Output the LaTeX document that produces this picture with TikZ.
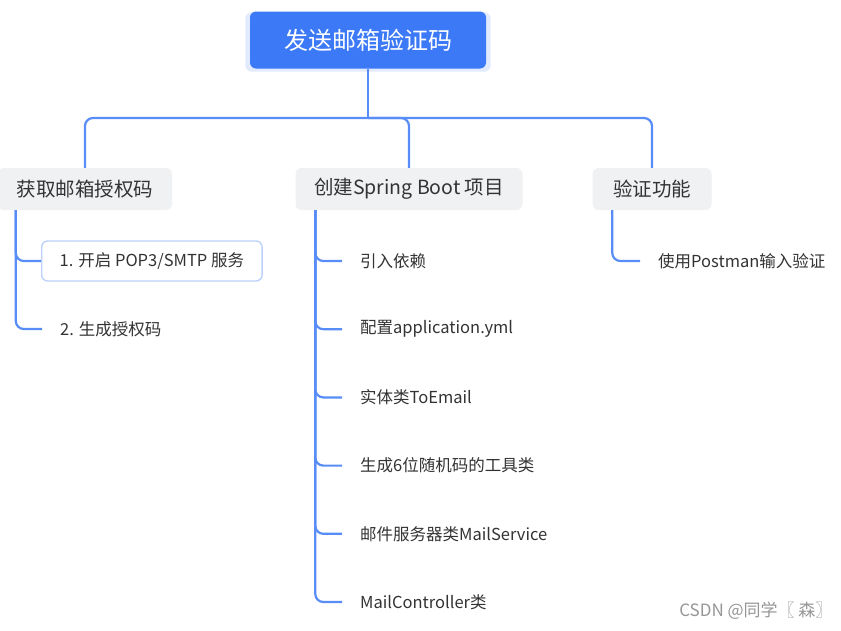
\documentclass[tikz,border=0pt]{standalone}
\usepackage{fontspec}
\setmainfont{Noto Sans CJK SC}
\usetikzlibrary{shadows}
\definecolor{rootblue}{RGB}{59,121,246}
\definecolor{linkblue}{RGB}{88,140,247}
\definecolor{topicgray}{RGB}{240,241,243}
\definecolor{itemline}{RGB}{188,210,250}
\definecolor{txtgray}{RGB}{51,51,51}
\definecolor{markgray}{RGB}{150,150,150}
\begin{document}
\begin{tikzpicture}[x=1pt, y=-1pt,
  every node/.style={text=txtgray},
  rootbox/.style={fill=rootblue, text=white, rounded corners=6pt, minimum width=236pt, minimum height=57pt,
    font=\fontsize{24}{28}\selectfont,
    drop shadow={shadow xshift=0pt, shadow yshift=-2pt, shadow scale=1.04, fill=rootblue, opacity=0.15}},
  topic/.style={fill=topicgray, rounded corners=6pt, minimum height=42pt, inner xsep=16pt, font=\fontsize{19.5}{23}\selectfont},
  item/.style={anchor=west, minimum height=40pt, inner xsep=18pt, font=\fontsize{16.5}{20}\selectfont},
  link/.style={draw=linkblue, line width=2.2pt, rounded corners=8pt}]
  \path[use as bounding box, fill=white] (0,0) rectangle (841,630);
  % root and first level
  \node[rootbox] (root) at (368,40) {发送邮箱验证码};
  \node[topic, minimum width=174pt] (auth) at (85,189) {获取邮箱授权码};
  \node[topic, minimum width=227pt] (spring) at (409,189) {创建Spring Boot 项目};
  \node[topic, minimum width=119pt] (verify) at (652,189) {验证功能};
  \coordinate (bus) at (368,118);
  \draw[link] (root.south) -- (bus);
  \draw[link] (auth.north) |- (bus) -| (verify.north);
  \draw[link] (bus) -| (spring.north);
  % left branch
  \node[item, draw=itemline, line width=1.4pt, rounded corners=6pt] (pop) at (41,261) {1. 开启 POP3/SMTP 服务};
  \node[item] (gen) at (42,329) {2. 生成授权码};
  \draw[link] ([xshift=18pt]auth.south west) |- (pop.west);
  \draw[link] ([xshift=18pt]auth.south west) |- (gen.west);
  % middle branch
  \foreach \txt [count=\i] in {引入依赖, 配置application.yml, 实体类ToEmail, 生成6位随机码的工具类, 邮件服务器类MailService, MailController类} {
    \node[item] (task\i) at (342,{261+68.2*(\i-1)}) {\txt};
    \draw[link] ([xshift=20pt]spring.south west) |- (task\i.west);
  }
  % right branch
  \node[item] (postman) at (640,261) {使用Postman输入验证};
  \draw[link] ([xshift=20pt]verify.south west) |- (postman.west);
  \node[text=markgray, anchor=east, font=\fontsize{17}{20}\selectfont] (mark) at (836,611) {CSDN @同学〖\ 森〗};
\end{tikzpicture}
\end{document}
